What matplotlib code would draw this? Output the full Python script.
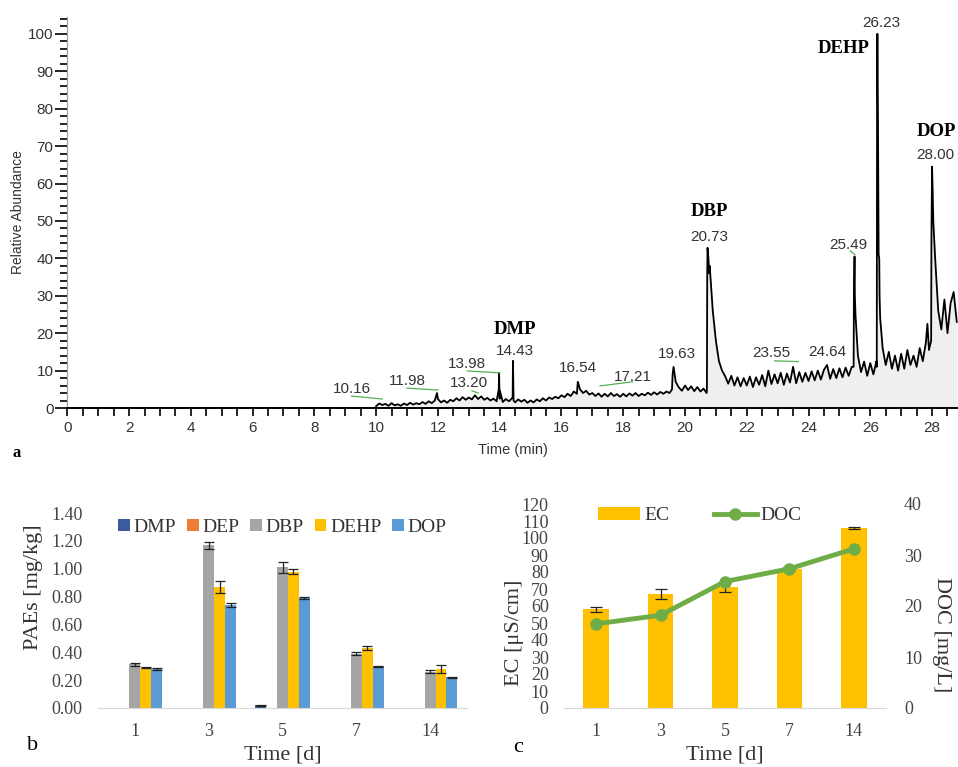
import numpy as np
import matplotlib
matplotlib.use("Agg")
import matplotlib.pyplot as plt
from matplotlib.ticker import MultipleLocator

# ---- panel a: chromatogram (0.1 min scan grid) ----
scan_t = np.round(np.arange(10.0, 28.85, 0.1), 2)
scan_y = [
    0.5, 1.2, 0.8, 1.1, 0.6, 1.3, 0.7, 1.0, 0.6, 1.2,
    0.8, 1.4, 0.9, 1.3, 1.0, 1.6, 1.1, 1.8, 1.3, 2.0,
    2.4, 1.5, 2.0, 1.4, 2.2, 1.8, 2.6, 2.0, 2.9, 2.2,
    2.8, 2.3, 3.4, 2.4, 3.1, 2.2, 2.7, 2.0, 2.5, 1.8,
    2.5, 1.6, 2.4, 1.8, 2.6, 1.5, 2.3, 1.7, 2.2, 1.4,
    2.0, 1.5, 2.3, 1.8, 2.6, 2.0, 2.8, 2.4, 3.0, 2.6,
    3.4, 2.9, 3.8, 3.2, 4.4, 3.8, 5.0, 4.0, 4.6, 3.6,
    4.0, 3.2, 3.9, 3.0, 3.8, 3.1, 4.0, 3.2, 3.7, 3.0,
    3.8, 3.1, 3.9, 3.3, 4.0, 3.2, 3.8, 3.4, 4.1, 3.5,
    4.2, 3.6, 4.3, 3.8, 4.4, 4.0, 9.0, 7.0, 5.5, 4.6,
    6.0, 4.8, 5.8, 4.5, 5.6, 4.4, 5.2, 4.0, 38.0, 26.0,
    18.0, 12.5, 10.0, 8.5, 6.5, 8.6, 6.0, 8.2, 5.8, 8.0,
    6.0, 8.4, 5.6, 8.2, 6.2, 8.8, 5.8, 10.0, 6.4, 9.0,
    6.6, 9.4, 6.2, 9.2, 6.8, 11.0, 6.6, 9.6, 7.0, 9.4,
    7.2, 9.8, 7.4, 10.0, 7.6, 10.2, 11.5, 7.8, 10.4, 8.0,
    10.6, 8.2, 10.8, 8.6, 11.0, 30.0, 14.0, 9.6, 12.4, 8.6,
    12.0, 9.0, 12.5, 30.0, 16.0, 11.5, 15.0, 10.5, 14.0, 10.0,
    14.5, 10.5, 15.5, 11.5, 14.0, 11.0, 16.0, 12.5, 17.5, 15.5,
    64.5, 40.0, 26.0, 21.0, 29.0, 20.0, 28.0, 31.0, 23.0,
]
peak_t = [11.97, 13.97, 13.98, 14.01, 14.42, 14.43, 14.45, 16.53, 19.58, 19.63,
          20.71, 20.72, 20.73, 20.76, 20.78, 20.85, 25.46, 25.47, 25.49, 25.52,
          26.21, 26.22, 26.23, 26.25, 26.27, 26.29, 26.32, 27.85, 27.97, 27.98,
          28.02, 28.04, 28.07]
peak_y = [4.0, 5.0, 9.4, 4.5, 3.0, 12.6, 2.0, 7.0, 5.0, 11.0,
          5.0, 35.0, 42.8, 40.0, 36.0, 32.0, 11.0, 30.0, 40.5, 25.0,
          11.0, 85.0, 100.0, 75.0, 41.0, 40.0, 24.0, 22.5, 18.0, 45.0,
          58.0, 50.0, 45.0]

rt_labels = ["10.16", "11.98", "13.98", "13.20", "14.43", "16.54", "17.21", "19.63",
             "20.73", "23.55", "24.64", "25.49", "26.23", "28.00"]
rt_text_xy = [(9.22, 5.1), (11.0, 7.2), (12.95, 11.8), (13.0, 6.7), (14.5, 15.2),
              (16.55, 10.7), (18.3, 8.3), (19.75, 14.4), (20.8, 45.7), (22.8, 14.7),
              (24.6, 15.0), (25.3, 43.6), (26.35, 103.0), (28.1, 67.6)]
compounds = ["DMP", "DBP", "DEHP", "DOP"]
compound_xy = [(14.5, 21.0), (20.8, 52.4), (25.15, 96.0), (28.15, 73.8)]

# ---- panel b: PAEs ----
days = ["1", "3", "5", "7", "14"]
pae_names = ["DMP", "DEP", "DBP", "DEHP", "DOP"]
pae_vals = [
    [0, 0, 0.02, 0, 0],
    [0, 0, 0, 0, 0],
    [0.315, 1.17, 1.01, 0.39, 0.26],
    [0.29, 0.87, 0.98, 0.43, 0.28],
    [0.28, 0.74, 0.79, 0.30, 0.22],
]
pae_err = [
    [0, 0, 0.004, 0, 0],
    [0, 0, 0, 0, 0],
    [0.01, 0.025, 0.04, 0.01, 0.01],
    [0.005, 0.045, 0.02, 0.015, 0.03],
    [0.004, 0.012, 0.01, 0.004, 0.003],
]
pae_colors = ["#3A5BA0", "#ED7D31", "#A5A5A5", "#FFC000", "#5B9BD5"]

# ---- panel c: EC and DOC ----
ec = [58, 67, 71, 82, 106]
ec_err = [1.5, 2.8, 2.5, 1.0, 0.5]
doc = [16.5, 18.2, 24.8, 27.3, 31.2]

W, H = 958, 767
fig = plt.figure(figsize=(W / 100, H / 100), dpi=100)

def box(l, t, r, b):
    return [l / W, 1 - b / H, (r - l) / W, (b - t) / H]

sans = "Liberation Sans"
serif = "Liberation Serif"
grey = "#333333"

# panel a
ax = fig.add_axes(box(67.3, 17, 958, 408))
tt = np.concatenate([scan_t, peak_t])
yy = np.concatenate([scan_y, peak_y])
order = np.argsort(tt, kind="stable")
tt, yy = tt[order], yy[order]
ax.fill_between(tt, 0, yy, color="#EFEFEF", lw=0)
ax.plot(tt, yy, color="black", lw=1.3)
ax.set_xlim(0, 28.84)
ax.set_ylim(0, 104.5)
ax.xaxis.set_major_locator(MultipleLocator(2))
ax.xaxis.set_minor_locator(MultipleLocator(0.5))
ax.yaxis.set_major_locator(MultipleLocator(10))
ax.yaxis.set_minor_locator(MultipleLocator(2))
ax.spines["top"].set_visible(False)
ax.spines["right"].set_visible(False)
ax.spines["left"].set_color("#999999")
ax.spines["bottom"].set_linewidth(1.4)
ax.tick_params(axis="y", which="major", length=9, width=1.2, pad=1, labelsize=11, labelcolor=grey)
ax.tick_params(axis="y", which="minor", length=5, width=1.2)
ax.tick_params(axis="x", which="both", length=6, width=1.2, pad=3, labelsize=11, labelcolor=grey)
for lab in ax.get_xticklabels() + ax.get_yticklabels():
    lab.set_family(sans)
ax.set_xlabel("Time (min)", family=sans, fontsize=10.5, color=grey, labelpad=6)
ax.set_ylabel("Relative Abundance", family=sans, fontsize=10, color=grey, labelpad=2)

for s, (x, y) in zip(rt_labels, rt_text_xy):
    ax.text(x, y, s, family=sans, fontsize=11, color=grey, ha="center", va="center")
for name, (x, y) in zip(compounds, compound_xy):
    ax.text(x, y, name, family=serif, fontsize=13.5, fontweight="bold", ha="center", va="center")
leaders = [((9.2, 10.2), (3.2, 2.4)), ((11.0, 12.0), (5.3, 4.8)), ((12.95, 14.0), (9.9, 9.4)),
           ((13.1, 13.3), (4.6, 4.0)), ((17.25, 18.3), (5.9, 7.0)), ((22.9, 23.67), (12.6, 12.4)),
           ((25.35, 25.5), (42.0, 41.0))]
for xs, ys in leaders:
    ax.plot(xs, ys, color="#55B04F", lw=0.9)
fig.text(17 / W, 1 - 453 / H, "a", family=serif, fontsize=12, fontweight="bold", ha="center", va="center")

# panel b
axb = fig.add_axes(box(98, 513, 467, 708))
x = np.arange(len(days))
bw = 0.148
for i, (name, vals, errs, col) in enumerate(zip(pae_names, pae_vals, pae_err, pae_colors)):
    pos = x + (i - 2) * bw
    axb.bar(pos, vals, bw, color=col, label=name, zorder=2)
    sel = [j for j in range(len(vals)) if vals[j] > 0]
    axb.errorbar(pos[sel], np.array(vals)[sel], yerr=np.array(errs)[sel], fmt="none",
                 ecolor="#222222", elinewidth=0.9, capsize=3.5, capthick=0.9, zorder=3)
axb.set_xlim(-0.5, 4.5)
axb.set_ylim(0, 1.4)
axb.set_yticks(np.arange(0, 1.41, 0.2))
axb.set_yticklabels(["%.2f" % v for v in np.arange(0, 1.41, 0.2)])
axb.set_xticks(x)
axb.set_xticklabels(days)
for s in ["top", "right", "left"]:
    axb.spines[s].set_visible(False)
axb.spines["bottom"].set_color("#D9D9D9")
axb.tick_params(length=0, labelsize=13, labelcolor="#444444", pad=11)
for lab in axb.get_xticklabels() + axb.get_yticklabels():
    lab.set_family(serif)
axb.set_xlabel("Time [d]", family=serif, fontsize=16, color="#333333", labelpad=4)
axb.set_ylabel("PAEs [mg/kg]", family=serif, fontsize=16, color="#333333")
axb.yaxis.set_label_coords(-0.15, 0.62)
axb.legend(loc="upper center", bbox_to_anchor=(0.5, 1.06), ncol=5, frameon=False,
           prop={"family": serif, "size": 14}, handlelength=0.6, handleheight=0.6,
           handletextpad=0.2, columnspacing=0.55, labelcolor="#333333")
fig.text(33 / W, 1 - 745 / H, "b", family=serif, fontsize=16, ha="center", va="center")

# panel c
axc = fig.add_axes(box(564, 504, 886, 708))
axc.bar(x, ec, 0.4, color="#FFC000", label="EC", zorder=2)
axc.errorbar(x, ec, yerr=ec_err, fmt="none", ecolor="#222222", elinewidth=0.9,
             capsize=4, capthick=0.9, zorder=3)
axc.set_xlim(-0.5, 4.5)
axc.set_ylim(0, 120)
axc.set_yticks(np.arange(0, 121, 10))
axc.set_xticks(x)
axc.set_xticklabels(days)
for s in ["top", "right", "left"]:
    axc.spines[s].set_visible(False)
axc.spines["bottom"].set_color("#D9D9D9")
axc.tick_params(length=0, labelsize=13, labelcolor="#444444", pad=11)
for lab in axc.get_xticklabels() + axc.get_yticklabels():
    lab.set_family(serif)
axc.set_xlabel("Time [d]", family=serif, fontsize=16, color="#333333", labelpad=4)
axc.set_ylabel("EC [μS/cm]", family=serif, fontsize=16, color="#333333")
axc.yaxis.set_label_coords(-0.125, 0.37)

axr = axc.twinx()
axr.plot(x, doc, color="#70AD47", lw=3.5, marker="o", ms=8, label="DOC", zorder=4)
axr.set_ylim(0, 40)
axr.set_yticks([0, 10, 20, 30, 40])
for s in ["top", "right", "left", "bottom"]:
    axr.spines[s].set_visible(False)
axr.tick_params(length=0, labelsize=13, labelcolor="#444444", pad=13)
for lab in axr.get_yticklabels():
    lab.set_family(serif)
fig.text(942 / W, 1 - 635 / H, "DOC [mg/L]", family=serif, fontsize=16, color="#333333",
         rotation=270, ha="center", va="center")
h1, l1 = axc.get_legend_handles_labels()
h2, l2 = axr.get_legend_handles_labels()
axr.legend(h1 + h2, l1 + l2, loc="upper left", bbox_to_anchor=(0.05, 1.07), ncol=2, frameon=False,
           prop={"family": serif, "size": 14}, handlelength=2.2, handleheight=0.6,
           handletextpad=0.2, columnspacing=2.3, labelcolor="#333333")
fig.text(518 / W, 1 - 747 / H, "c", family=serif, fontsize=16, ha="center", va="center")

fig.savefig("out.png", dpi=100)
